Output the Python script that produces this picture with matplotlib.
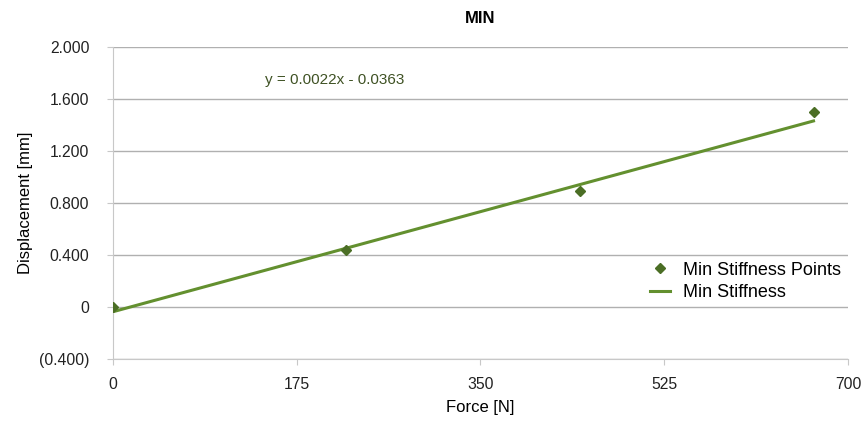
import matplotlib.pyplot as plt
import matplotlib.ticker as mticker
import numpy as np

# DATA ------------------------------------------------------
force = [0, 222.4, 444.8, 667.2]
displacement = [0.0, 0.44, 0.89, 1.50]
slope = 0.0022
intercept = -0.0363
x_ticks = [0, 175, 350, 525, 700]
y_ticks = [-0.4, 0, 0.4, 0.8, 1.2, 1.6, 2.0]

plt.rcParams['font.family'] = ['Liberation Sans', 'DejaVu Sans']

fig = plt.figure(figsize=(8.65, 4.24), dpi=100)
ax = fig.add_axes([0.1306, 0.1533, 0.8497, 0.7357])

# trend line over the range of the points
fit_x = np.array([min(force), max(force)])
fit_y = slope * fit_x + intercept
ax.plot(force, displacement, linestyle="none", marker="D", markersize=5.5,
        color="#4b6e25", label="Min Stiffness Points", zorder=3)
ax.plot(fit_x, fit_y, color="#63902f", linewidth=2.2, label="Min Stiffness", zorder=2)

ax.set_xlim(0, 700)
ax.set_ylim(-0.4, 2.0)
ax.set_xticks(x_ticks)
ax.set_yticks(y_ticks)


def yfmt(v, pos):
    if abs(v) < 1e-9:
        return "0"
    if v < 0:
        return "(%.3f)" % abs(v)
    return "%.3f" % v


ax.yaxis.set_major_formatter(mticker.FuncFormatter(yfmt))
ax.grid(axis="y", color="#b0b0b0", linewidth=1)
ax.set_axisbelow(True)
for s in ["top", "right"]:
    ax.spines[s].set_visible(False)
ax.spines["left"].set_color("#c8c8c8")
ax.spines["bottom"].set_color("#c8c8c8")
ax.tick_params(axis="both", colors="#c8c8c8", labelcolor="#222222", labelsize=11.3, length=4)
ax.tick_params(axis="x", pad=9)
ax.tick_params(axis="y", pad=13)

ax.set_xlabel("Force [N]", fontsize=12, labelpad=6)
ax.set_ylabel("Displacement [mm]", fontsize=12, labelpad=4)
ax.set_title("MIN", fontsize=12, fontweight="bold", pad=17)

ax.text(145, 1.745, "y = %.4fx - %.4f" % (slope, abs(intercept)), fontsize=11,
        color="#3f5224", va="center")

ax.legend(loc="lower right", bbox_to_anchor=(1.012, 0.134), frameon=False, fontsize=13,
          handlelength=1.1, handletextpad=0.7, labelspacing=0.3)

plt.savefig("out.png", dpi=100)
